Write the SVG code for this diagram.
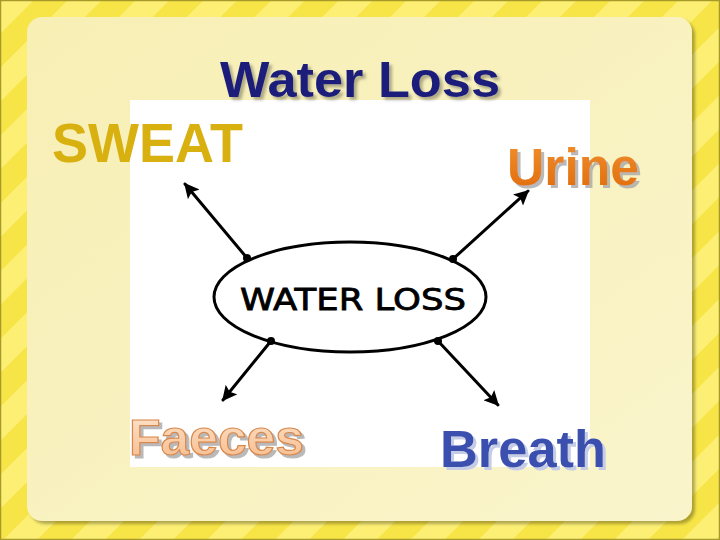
<svg xmlns="http://www.w3.org/2000/svg" width="720" height="540" viewBox="0 0 720 540">
<defs>
<pattern id="stripes" patternUnits="userSpaceOnUse" width="48" height="48" patternTransform="rotate(45)">
<rect width="48" height="48" fill="#f7e446"/>
<rect width="24" height="48" fill="#fcef74"/>
</pattern>
<linearGradient id="panel" x1="0" y1="0" x2="1" y2="1">
<stop offset="0" stop-color="#f7efb4"/>
<stop offset="1" stop-color="#faf4cc"/>
</linearGradient>
<linearGradient id="urineG" x1="0" y1="0" x2="0" y2="1">
<stop offset="0" stop-color="#f09030"/>
<stop offset="1" stop-color="#e06a08"/>
</linearGradient>
<linearGradient id="faecesG" x1="0" y1="0" x2="0" y2="1">
<stop offset="0" stop-color="#fde6cf"/>
<stop offset="1" stop-color="#f6b888"/>
</linearGradient>
<marker id="arrow" viewBox="0 0 10 10" refX="9" refY="5" markerWidth="5" markerHeight="5" orient="auto-start-reverse">
<path d="M0,0 L10,5 L0,10 L2,5 Z" fill="#000"/>
</marker>
<filter id="shadow" x="-10%" y="-10%" width="130%" height="130%">
<feGaussianBlur in="SourceAlpha" stdDeviation="1.5"/>
<feOffset dx="3" dy="3" result="b"/>
<feFlood flood-color="#000" flood-opacity="0.3"/>
<feComposite in2="b" operator="in"/>
<feMerge><feMergeNode/><feMergeNode in="SourceGraphic"/></feMerge>
</filter>
<filter id="txtshadow" x="-10%" y="-20%" width="130%" height="150%">
<feOffset in="SourceAlpha" dx="3" dy="3" result="o"/>
<feFlood flood-color="#a8a8a8" flood-opacity="0.8"/>
<feComposite in2="o" operator="in"/>
<feMerge><feMergeNode/><feMergeNode in="SourceGraphic"/></feMerge>
</filter>
<filter id="txtshadowB" x="-10%" y="-20%" width="130%" height="150%">
<feOffset in="SourceAlpha" dx="3" dy="3" result="o"/>
<feFlood flood-color="#c4cce6" flood-opacity="1"/>
<feComposite in2="o" operator="in"/>
<feMerge><feMergeNode/><feMergeNode in="SourceGraphic"/></feMerge>
</filter>
</defs>
<style>
.label{font-family:"Liberation Sans",Arial,sans-serif;font-weight:bold}
.conn{stroke:#000;stroke-width:3;fill:none;stroke-linecap:round}
.dot{fill:#000}
</style>
<rect width="720" height="540" fill="url(#stripes)"/>
<rect x="0.5" y="0.5" width="719" height="539" fill="none" stroke="#a89a2a" stroke-width="1.5"/>
<rect x="27" y="17" width="665" height="504" rx="15" fill="url(#panel)" filter="url(#shadow)"/>
<rect x="130" y="100" width="460" height="367" fill="#ffffff"/>

<g id="title">
<text class="label" x="360" y="97" font-size="50" fill="#1b1f7a" text-anchor="middle" textLength="280" lengthAdjust="spacingAndGlyphs" filter="url(#shadow)">Water Loss</text>
</g>

<g id="center">
<ellipse cx="350" cy="297" rx="136" ry="55" fill="#fff" stroke="#000" stroke-width="3"/>
<text x="353" y="310" font-family="'DejaVu Sans',sans-serif" font-size="31" text-anchor="middle" fill="#000" stroke="#000" stroke-width="0.8" textLength="226" lengthAdjust="spacingAndGlyphs">WATER LOSS</text>
</g>

<g id="connectors">
<line class="conn" x1="247" y1="258" x2="185" y2="184" marker-end="url(#arrow)"/>
<line class="conn" x1="453" y1="259" x2="528" y2="191" marker-end="url(#arrow)"/>
<line class="conn" x1="271" y1="341" x2="223" y2="400" marker-end="url(#arrow)"/>
<line class="conn" x1="438" y1="341" x2="498" y2="405" marker-end="url(#arrow)"/>
<circle class="dot" cx="247" cy="258" r="4"/>
<circle class="dot" cx="453" cy="259" r="4"/>
<circle class="dot" cx="271" cy="341" r="4"/>
<circle class="dot" cx="438" cy="341" r="4"/>
</g>

<g id="sweat">
<text class="label" x="52" y="162" font-size="55" fill="#d8b010" textLength="191" lengthAdjust="spacingAndGlyphs">SWEAT</text>
</g>

<g id="urine">
<text class="label" x="507" y="185" font-size="51" fill="url(#urineG)" textLength="132" lengthAdjust="spacingAndGlyphs" filter="url(#txtshadow)">Urine</text>
</g>

<g id="faeces">
<text class="label" x="129" y="455" font-size="50" fill="url(#faecesG)" stroke="#d8884a" stroke-width="1.2" textLength="175" lengthAdjust="spacingAndGlyphs" filter="url(#txtshadow)">Faeces</text>
</g>

<g id="breath">
<text class="label" x="440" y="467" font-size="51" fill="#3a4fae" textLength="166" lengthAdjust="spacingAndGlyphs" filter="url(#txtshadowB)">Breath</text>
</g>
</svg>
